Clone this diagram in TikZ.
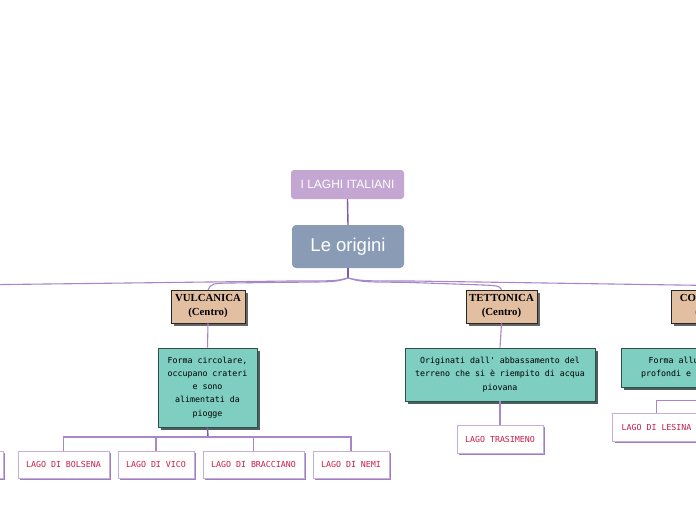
\documentclass[tikz,border=0pt]{standalone}
\usepackage{fontspec}
\setmainfont{Liberation Serif}
\setsansfont{Liberation Sans}
\newfontfamily\monof{DejaVu Sans Mono}
\usetikzlibrary{shadows}
\definecolor{lilac}{HTML}{C4A6D3}
\definecolor{slate}{HTML}{8A9BB5}
\definecolor{tan}{HTML}{E3BFA1}
\definecolor{teal1}{HTML}{7ECEC2}
\definecolor{connc}{HTML}{A886C9}
\definecolor{hubc}{HTML}{8456AD}
\definecolor{lagoborder}{HTML}{C6AEDA}
\definecolor{lagoshadow}{HTML}{A07EC2}
\definecolor{lagotext}{HTML}{C81E48}
\definecolor{tealborder}{HTML}{2F4F4A}
\definecolor{tealshadow}{HTML}{4D5F5C}
\tikzset{
  conn/.style={draw=connc, line width=1.1pt},
  hubline/.style={draw=hubc, line width=1.4pt},
  titlebox/.style={fill=lilac, rounded corners=3pt, text=white, font=\sffamily\fontsize{12}{14}\selectfont, inner sep=0pt},
  origbox/.style={fill=slate, rounded corners=4pt, text=white, font=\sffamily\fontsize{18.5}{20}\selectfont, inner sep=0pt},
  typebox/.style={fill=tan, draw=black!85, line width=0.6pt, font=\bfseries\fontsize{10.8}{14}\selectfont, align=center, inner sep=0pt,
    general shadow={fill=black!60, shadow xshift=2.5pt, shadow yshift=-2.5pt}},
  descbox/.style={fill=teal1, draw=tealborder, line width=0.6pt, font=\monof\fontsize{8.3}{13.2}\selectfont, text=black, align=center, inner sep=0pt,
    general shadow={fill=tealshadow, shadow xshift=2.5pt, shadow yshift=-2.5pt}},
  lagobox/.style={fill=white, draw=lagoborder, line width=0.8pt, font=\monof\fontsize{8.3}{10}\selectfont, text=lagotext, inner sep=0pt,
    general shadow={fill=lagoshadow, shadow xshift=2pt, shadow yshift=-2pt}},
}
\begin{document}
\begin{tikzpicture}[x=1pt,y=-1pt]
\useasboundingbox (0,0) rectangle (696,520);
\clip (0,0) rectangle (696,520);
\fill[white] (0,0) rectangle (696,520);

% top nodes
\node[titlebox, minimum width=113pt, minimum height=29pt] (title) at (347.5,184.5) {I LAGHI ITALIANI};
\node[origbox, minimum width=112pt, minimum height=43pt] (orig) at (348,246.5) {Le origini};

% type nodes
\node[typebox, minimum width=74pt, minimum height=33pt] (vulc) at (208,306.5) {VULCANICA\\(Centro)};
\node[typebox, minimum width=71pt, minimum height=33pt] (tett) at (501.5,306.5) {TETTONICA\\(Centro)};
\node[typebox, minimum width=74pt, minimum height=33pt] (cost) at (708,306.5) {COSTIERA\\(Sud)};

% description nodes
\node[descbox, minimum width=99pt, minimum height=79pt] (d1) at (207.5,387.5) {Forma circolare,\\occupano crateri\\e sono\\alimentati da\\piogge};
\node[descbox, minimum width=190pt, minimum height=53pt] (d2) at (500,374.5) {Originati dall' abbassamento del\\terreno che si è riempito di acqua\\piovana};
\node[descbox, minimum width=160pt, minimum height=39pt] (d3) at (701,367.5) {Forma allungata, poco\\profondi e spesso salati};

% lake nodes
\node[lagobox, minimum width=40pt, minimum height=27pt] (lprev) at (-17,464.5) {};
\node[lagobox, minimum width=91pt, minimum height=27pt] (bols) at (63.5,464.5) {LAGO DI BOLSENA};
\node[lagobox, minimum width=76pt, minimum height=27pt] (vico) at (156,464.5) {LAGO DI VICO};
\node[lagobox, minimum width=101pt, minimum height=27pt] (brac) at (253.5,464.5) {LAGO DI BRACCIANO};
\node[lagobox, minimum width=76pt, minimum height=27pt] (nemi) at (351,464.5) {LAGO DI NEMI};
\node[lagobox, minimum width=86pt, minimum height=28pt] (tras) at (500,439) {LAGO TRASIMENO};
\node[lagobox, minimum width=88pt, minimum height=28pt] (lesi) at (656.5,427) {LAGO DI LESINA};

% connectors
\coordinate (hub) at (348,278);
\coordinate (farleft) at (-10,284.7);
\coordinate (vbus) at (208,437);
\coordinate (lbus) at (720,400.5);
\draw[hubline] (title.south) -- (orig.north);
\draw[hubline] (orig.south) -- (hub);
\draw[conn] (hub) .. controls (336,281) .. (290,281) -- (farleft);
\draw[conn] (hub) .. controls (336,282) .. (280,282.3) -- (232,283) .. controls (212,283.3) .. (vulc.north);
\draw[conn] (hub) .. controls (362,282) .. (405,282.3) -- (472,284.6) .. controls (499,285.5) .. (tett.north);
\draw[conn] (hub) .. controls (362,281) .. (412,281) -- (698,285.3) .. controls (707,285.5) .. (cost.north);

\draw[conn] (vulc.south) -- (d1.north);
\draw[conn] (tett.south) -- (d2.north);
\draw[conn] (cost.south) -- (d3.north);

\draw[hubline] (d1.south) -- (vbus);
\draw[conn] (bols.north) |- (vbus);
\draw[conn] (vico.north) |- (vbus);
\draw[conn] (brac.north) |- (vbus);
\draw[conn] (nemi.north) |- (vbus);

\draw[conn] (d2.south) -- (tras.north);
\draw[conn] (lesi.north) |- (lbus);
\end{tikzpicture}
\end{document}
